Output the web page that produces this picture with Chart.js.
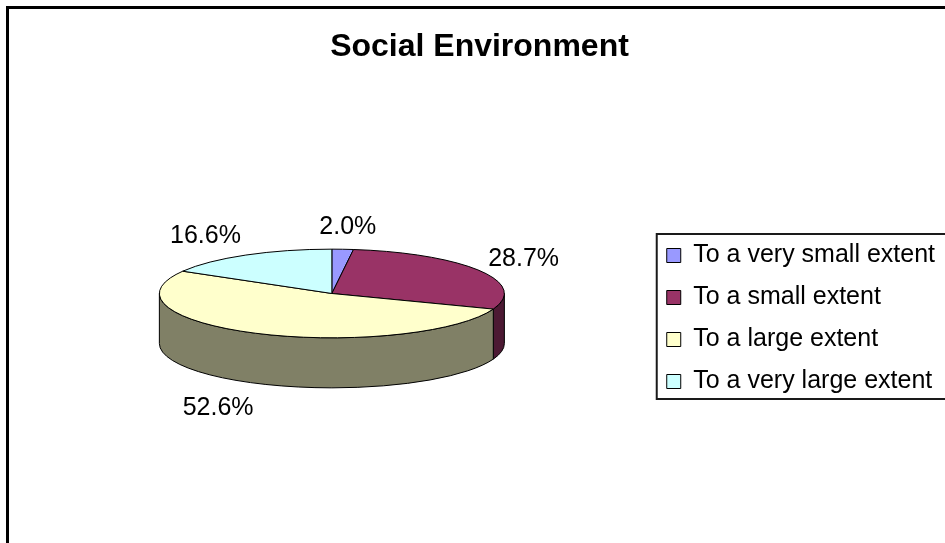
<!DOCTYPE html>
<html>
<head>
<meta charset="utf-8">
<title>Social Environment</title>
<script src="https://cdn.jsdelivr.net/npm/chart.js@4"></script>
<style>
  html, body { margin: 0; padding: 0; background: #fff; overflow: hidden; }
  #wrap { position: relative; width: 968px; height: 543px; }
</style>
</head>
<body>
<div id="wrap"><canvas id="myChart"></canvas></div>
<script>
const categories = ["To a very small extent", "To a small extent", "To a large extent", "To a very large extent"];
const percents = [2.0, 28.7, 52.6, 16.6];

const topColors = ["#9999FF", "#993366", "#FFFFCC", "#CCFFFF"];
const sideColors = ["#4C4C80", "#4C1933", "#808066", "#668080"];

const FONT = "'Liberation Sans', Arial, sans-serif";
const TILT = 0.257; // vertical squash of the top face
const DEPTH = 0.29; // wall height, relative to the radius

// ellipse geometry taken from the arcs Chart.js laid out
function pieGeometry(chart) {
  const arcs = chart.getDatasetMeta(0).data;
  const rx = arcs[0].outerRadius;
  const depth = rx * DEPTH;
  return { arcs, rx, ry: rx * TILT, depth, cx: arcs[0].x, cy: arcs[0].y - depth / 2 };
}

const pie3d = {
  id: "pie3d",
  beforeDatasetsDraw(chart) {
    const ctx = chart.ctx;
    const { arcs, rx, ry, depth, cx, cy } = pieGeometry(chart);
    ctx.save();
    ctx.lineWidth = 1;
    ctx.strokeStyle = "#000";

    // walls, only the front half (0..PI) is visible
    arcs.forEach((arc, i) => {
      for (let k = -1; k <= 1; k++) {
        const a = Math.max(arc.startAngle, 2 * Math.PI * k);
        const b = Math.min(arc.endAngle, 2 * Math.PI * k + Math.PI);
        if (b <= a) continue;
        ctx.beginPath();
        ctx.ellipse(cx, cy, rx, ry, 0, a, b);
        ctx.ellipse(cx, cy + depth, rx, ry, 0, b, a, true);
        ctx.closePath();
        ctx.fillStyle = sideColors[i];
        ctx.fill();
        ctx.stroke();
      }
    });

    // top faces
    arcs.forEach((arc, i) => {
      ctx.beginPath();
      ctx.moveTo(cx, cy);
      ctx.ellipse(cx, cy, rx, ry, 0, arc.startAngle, arc.endAngle);
      ctx.closePath();
      ctx.fillStyle = topColors[i];
      ctx.fill();
      ctx.stroke();
    });
    ctx.restore();
    return false;
  },
  afterDraw(chart) {
    const ctx = chart.ctx;
    const { arcs, rx, ry, depth, cx, cy } = pieGeometry(chart);
    const values = chart.data.datasets[0].data;

    ctx.save();
    // percentage labels outside each slice
    ctx.font = "25px " + FONT;
    ctx.fillStyle = "#000";
    ctx.textAlign = "center";
    ctx.textBaseline = "middle";
    const gap = 10;
    arcs.forEach((arc, i) => {
      const mid = (arc.startAngle + arc.endAngle) / 2;
      const c = Math.cos(mid), s = Math.sin(mid);
      const text = values[i].toFixed(1) + "%";
      const w = ctx.measureText(text).width;
      const ax = cx + (rx + gap) * c;
      const ay = cy + (ry + gap) * s + (s > 0 ? depth + 5 : 0);
      const dx = (w / 2) * Math.max(-1, Math.min(1, c * 2.5));
      ctx.fillText(text, ax + dx, ay + 12 * s);
    });

    // border round the legend
    const boxes = chart.legend.legendHitBoxes;
    if (boxes && boxes.length) {
      const first = boxes[0], last = boxes[boxes.length - 1];
      const top = first.top - 9;
      const bottom = last.top + last.height + 5;
      ctx.lineWidth = 2;
      ctx.strokeStyle = "#1a1a1a";
      ctx.strokeRect(first.left - 10, top, 400, bottom - top);
    }

    // outer frame of the chart
    ctx.lineWidth = 3;
    ctx.strokeStyle = "#000";
    ctx.strokeRect(7.5, 7.5, 1000, 1000);
    ctx.restore();
  }
};

new Chart(document.getElementById("myChart"), {
  type: "pie",
  data: {
    labels: categories,
    datasets: [
      {
        data: percents,
        backgroundColor: topColors,
        borderColor: "#000",
        borderWidth: 1,
      },
    ],
  },
  options: {
    responsive: true,
    maintainAspectRatio: false,
    animation: false,
    layout: {
      padding: { top: 0, bottom: 51.5, left: 14, right: 23 },
    },
    plugins: {
      title: {
        display: true,
        text: "Social Environment",
        color: "#000",
        font: { family: FONT, size: 32, weight: "bold" },
        padding: { top: 28.3, bottom: 78.8 },
      },
      legend: {
        position: "right",
        align: "center",
        fullSize: false,
        labels: {
          color: "#000",
          font: { family: FONT, size: 25 },
          boxWidth: 14,
          boxHeight: 14,
          padding: 17,
        },
      },
      tooltip: { enabled: false },
    },
  },
  plugins: [pie3d],
});
</script>
</body>
</html>
